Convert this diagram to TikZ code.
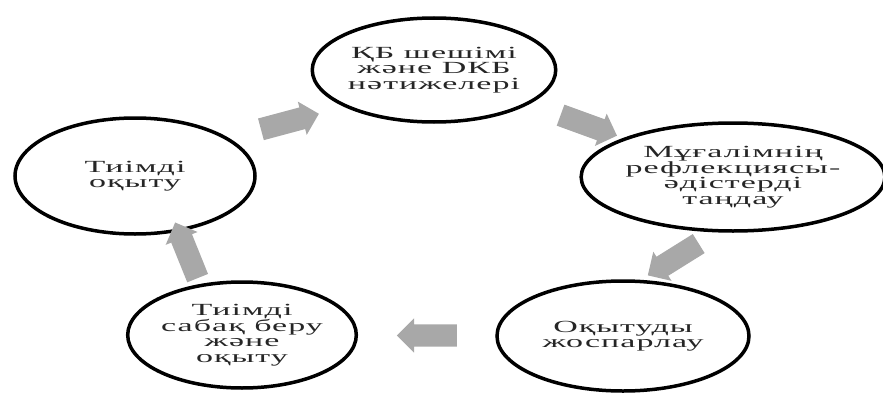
\documentclass[tikz,border=0pt]{standalone}
\usepackage{fontspec}
\usetikzlibrary{shapes.geometric,shapes.arrows,calc}
\newfontfamily\kzfont[FakeStretch=2.0,LetterSpace=6]{Liberation Serif}
\definecolor{arrowgray}{RGB}{168,168,168}
\begin{document}
\begin{tikzpicture}[x=1pt,y=1pt,
  ell/.style={ellipse, draw=black, line width=3.5pt, fill=white, inner sep=0pt,
    align=center, font=\kzfont\fontsize{17pt}{15.5pt}\selectfont, text=black!85},
  blockarrow/.style={single arrow, fill=arrowgray, draw=none, inner sep=11pt,
    minimum height=60pt, single arrow head extend=6pt, single arrow head indent=0pt}]
\useasboundingbox (0,0) rectangle (883,392);
\node[ell, minimum width=236pt, minimum height=104pt] (e1) at (434,322)
  {ҚБ шешімі\\ және DКБ\\ нәтижелері};
\node[ell, minimum width=294pt, minimum height=108pt] (e2) at (733,215)
  {Мұғалімнің\\ рефлекциясы-\\ әдістерді\\ таңдау};
\node[ell, minimum width=252pt, minimum height=110pt] (e5) at (623,56)
  {Оқытуды\\ жоспарлау};
\node[ell, minimum width=226pt, minimum height=106pt] (e4) at (242,57)
  {Тиімді\\ сабақ беру\\ және\\ оқыту};
\node[ell, minimum width=240pt, minimum height=116pt] (e3) at (135,216)
  {Тиімді\\ оқыту};
\node[blockarrow, rotate=15] (a1) at ($(e3)!0.5!(e1)$) {};
\node[blockarrow, rotate=-20] (a2) at ($(e1)!0.5!(e2)$) {};
\node[blockarrow, rotate=212] (a3) at ($(e2)!0.5!(e5)$) {};
\node[blockarrow, rotate=180] (a4) at ($(e5)!0.5!(e4)$) {};
\node[blockarrow, rotate=112] (a5) at ($(e4)!0.5!(e3)$) {};
\end{tikzpicture}
\end{document}
